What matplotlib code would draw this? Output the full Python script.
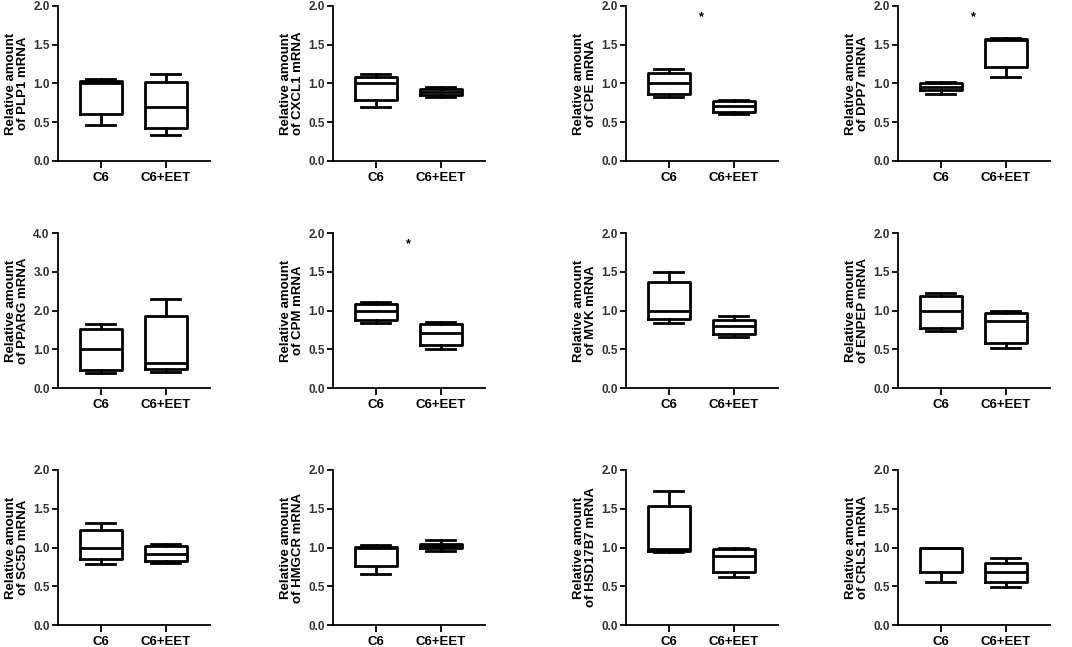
import numpy as np
import matplotlib.pyplot as plt

plt.rcParams['font.family'] = ['Liberation Sans', 'DejaVu Sans']
plt.rcParams['font.weight'] = 'bold'

genes = ["PLP1", "CXCL1", "CPE", "DPP7",
         "PPARG", "CPM", "MVK", "ENPEP",
         "SC5D", "HMGCR", "HSD17B7", "CRLS1"]
groups = ["C6", "C6+EET"]

# five-number summaries: [min, q1, median, q3, max]
c6_box = [
    [0.47, 0.61, 1.00, 1.03, 1.06],
    [0.70, 0.79, 1.01, 1.08, 1.12],
    [0.82, 0.86, 1.00, 1.14, 1.19],
    [0.86, 0.91, 0.95, 1.00, 1.02],
    [0.38, 0.46, 1.00, 1.53, 1.65],
    [0.84, 0.88, 1.00, 1.08, 1.11],
    [0.84, 0.89, 1.00, 1.37, 1.50],
    [0.73, 0.77, 1.00, 1.19, 1.23],
    [0.79, 0.85, 1.00, 1.23, 1.31],
    [0.66, 0.76, 1.00, 1.01, 1.03],
    [0.94, 0.96, 0.98, 1.54, 1.73],
    [0.56, 0.68, 1.00, 1.00, 1.00],
]
eet_box = [
    [0.33, 0.43, 0.70, 1.015, 1.12],
    [0.82, 0.85, 0.89, 0.93, 0.96],
    [0.61, 0.63, 0.71, 0.78, 0.79],
    [1.08, 1.21, 1.56, 1.57, 1.59],
    [0.41, 0.48, 0.64, 1.86, 2.29],
    [0.50, 0.55, 0.71, 0.83, 0.85],
    [0.66, 0.70, 0.80, 0.88, 0.93],
    [0.51, 0.58, 0.86, 0.97, 0.99],
    [0.80, 0.83, 0.92, 1.02, 1.05],
    [0.96, 0.99, 1.02, 1.05, 1.10],
    [0.62, 0.68, 0.89, 0.98, 1.00],
    [0.49, 0.55, 0.69, 0.80, 0.87],
]
y_max = [2, 2, 2, 2, 4, 2, 2, 2, 2, 2, 2, 2]
significant = ["CPE", "DPP7", "CPM"]

W, H = 1072, 647
fig = plt.figure(figsize=(W / 100, H / 100), dpi=100)

col_left = [58, 333, 626, 898]
row_top = [6, 233, 470]
ax_w, ax_h = 152, 155

line_kw = dict(color='black', linewidth=2)

for i, gene in enumerate(genes):
    r, c = divmod(i, 4)
    ax = fig.add_axes([col_left[c] / W, 1 - (row_top[r] + ax_h) / H,
                       ax_w / W, ax_h / H])
    stats = []
    for vals, name in zip([c6_box[i], eet_box[i]], groups):
        lo, q1, med, q3, hi = vals
        stats.append(dict(whislo=lo, q1=q1, med=med, q3=q3, whishi=hi,
                          fliers=[], label=name))
    ax.bxp(stats, positions=[1, 2], widths=0.65, capwidths=0.45,
           showfliers=False,
           boxprops=line_kw, whiskerprops=line_kw, capprops=line_kw,
           medianprops=line_kw)

    top = y_max[i]
    ax.set_ylim(0, top)
    ax.set_xlim(0.34, 2.68)
    if top == 4:
        ax.set_yticks(np.arange(0, 4.1, 1.0))
    else:
        ax.set_yticks(np.arange(0, 2.1, 0.5))
    ax.yaxis.set_major_formatter(plt.FormatStrFormatter('%.1f'))
    ax.set_xticks([1, 2])
    ax.set_xticklabels(groups, fontsize=9.5, fontweight='bold')
    ax.tick_params(axis='y', labelsize=8.5, colors='black', labelcolor='#333333',
                   width=1.3, length=4, pad=2)
    ax.tick_params(axis='x', width=1.3, length=5, pad=3)
    for s in ['top', 'right']:
        ax.spines[s].set_visible(False)
    for s in ['left', 'bottom']:
        ax.spines[s].set_linewidth(1.3)
    ax.set_ylabel("Relative amount\nof %s mRNA" % gene, fontsize=9.5,
                  fontweight='bold', linespacing=1.0)
    ax.yaxis.set_label_coords(-0.19, 0.5)

    if gene in significant:
        ax.text(1.5, 0.925 * top, "*", ha='center', va='center',
                fontsize=9, fontweight='bold')

fig.savefig("out.png", dpi=100)
